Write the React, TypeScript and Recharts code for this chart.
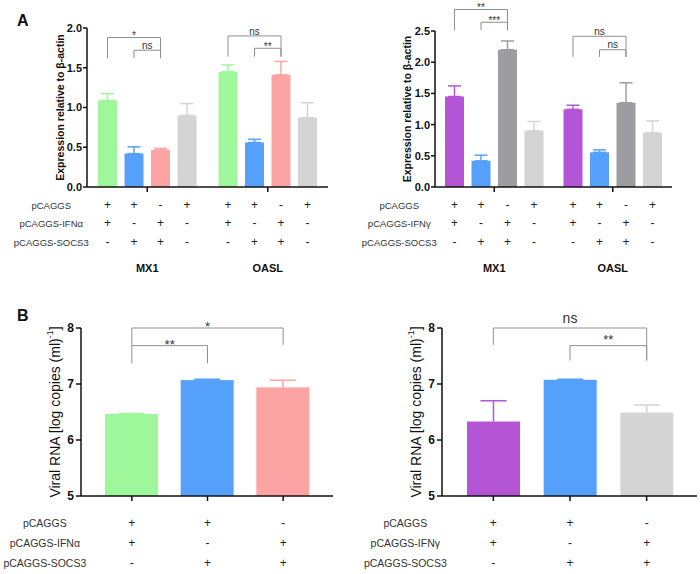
import React from 'react';
import { BarChart, Bar, XAxis, YAxis, ErrorBar, Cell, ReferenceLine } from 'recharts';

const FONT = '"Liberation Sans", Arial, Helvetica, sans-serif';
const INK = '#111';
const BRACKET = '#8f8f8f';

// ---------- panel A: expression relative to β-actin ----------
const genes = ['MX1', 'OASL'];
const seriesKeys = ['ifn', 'socs', 'both', 'ctrl'];

// left chart (IFNα), one value per gene
const a1Ifn = [1.09, 1.45];
const a1IfnErr = [0.085, 0.085];
const a1Socs = [0.42, 0.56];
const a1SocsErr = [0.085, 0.04];
const a1Both = [0.465, 1.41];
const a1BothErr = [0.02, 0.17];
const a1Ctrl = [0.9, 0.87];
const a1CtrlErr = [0.15, 0.19];

// right chart (IFNγ)
const a2Ifn = [1.45, 1.245];
const a2IfnErr = [0.17, 0.065];
const a2Socs = [0.42, 0.555];
const a2SocsErr = [0.09, 0.04];
const a2Both = [2.2, 1.35];
const a2BothErr = [0.14, 0.32];
const a2Ctrl = [0.9, 0.87];
const a2CtrlErr = [0.15, 0.19];

const a1Ticks = [0, 0.5, 1, 1.5, 2];
const a2Ticks = [0, 0.5, 1, 1.5, 2, 2.5];

// +/- rows under the four bars of each gene
const aSigns = [
  ['+', '+', '-', '+'],
  ['+', '-', '+', '-'],
  ['-', '+', '+', '-'],
];
const a1RowLabels = ['pCAGGS', 'pCAGGS-IFNα', 'pCAGGS-SOCS3'];
const a2RowLabels = ['pCAGGS', 'pCAGGS-IFNγ', 'pCAGGS-SOCS3'];

// brackets: bar indices inside a gene group, heights in axis units
const a1Brackets = [
  { group: 0, from: 0, to: 2, top: 1.88, legL: 1.62, legR: 1.62, text: '*' },
  { group: 0, from: 1, to: 2, top: 1.72, legL: 1.62, legR: 1.62, text: 'ns' },
  { group: 1, from: 0, to: 2, top: 1.9, legL: 1.64, legR: 1.64, text: 'ns' },
  { group: 1, from: 1, to: 2, top: 1.745, legL: 1.64, legR: 1.64, text: '**' },
];
const a2Brackets = [
  { group: 0, from: 0, to: 2, top: 2.845, legL: 2.515, legR: 2.515, text: '**' },
  { group: 0, from: 1, to: 2, top: 2.64, legL: 2.515, legR: 2.515, text: '***' },
  { group: 1, from: 0, to: 2, top: 2.415, legL: 2.085, legR: 2.085, text: 'ns' },
  { group: 1, from: 1, to: 2, top: 2.2, legL: 2.085, legR: 2.085, text: 'ns' },
];

// ---------- panel B: viral RNA ----------
const bCats = ['IFN', 'SOCS3', 'IFN+SOCS3'];
const b1Values = [6.465, 7.07, 6.94];
const b1Err = [0.008, 0.015, 0.125];
const b2Values = [6.33, 7.075, 6.49];
const b2Err = [0.37, 0.012, 0.135];
const bTicks = [5, 6, 7, 8];
const bSigns = [
  ['+', '+', '-'],
  ['+', '-', '+'],
  ['-', '+', '+'],
];
const b1RowLabels = ['pCAGGS', 'pCAGGS-IFNα', 'pCAGGS-SOCS3'];
const b2RowLabels = ['pCAGGS', 'pCAGGS-IFNγ', 'pCAGGS-SOCS3'];
const b1Brackets = [
  { from: 0, to: 1, top: 7.685, legL: 7.37, legR: 7.37, text: '**' },
  { from: 0, to: 2, top: 8.0, legL: 7.685, legR: 7.7, text: '*' },
];
const b2Brackets = [
  { from: 0, to: 2, top: 8.0, legL: 7.7, legR: 7.42, text: 'ns' },
  { from: 1, to: 2, top: 7.685, legL: 7.42, legR: 7.42, text: '**' },
];

const A1_COLORS = ['#9ff79b', '#55a0fa', '#fca3a3', '#d4d4d4'];
const A2_COLORS = ['#b455d6', '#55a0fa', '#9d9da1', '#d4d4d4'];
const B1_COLORS = ['#9ff79b', '#55a0fa', '#fca3a3'];
const B2_COLORS = ['#b455d6', '#55a0fa', '#d4d4d4'];

const BAR_A = 19;
const GAP_A = 7.5;
const PITCH_A = BAR_A + GAP_A;
const B_MIN = 5;

type Bracket = { group?: number; from: number; to: number; top: number; legL: number; legR: number; text: string };

const buildA = (vals: number[][], errs: number[][]) =>
  genes.map((gene, gi) => {
    const row: any = { gene };
    seriesKeys.forEach((k, si) => {
      row[k] = vals[si][gi];
      row[k + 'Err'] = [0, errs[si][gi]];
    });
    return row;
  });

const buildB = (vals: number[], errs: number[]) => bCats.map((cat, i) => ({ cat, value: vals[i], err: errs[i] }));

const a1Data = buildA([a1Ifn, a1Socs, a1Both, a1Ctrl], [a1IfnErr, a1SocsErr, a1BothErr, a1CtrlErr]);
const a2Data = buildA([a2Ifn, a2Socs, a2Both, a2Ctrl], [a2IfnErr, a2SocsErr, a2BothErr, a2CtrlErr]);
const b1Data = buildB(b1Values, b1Err);
const b2Data = buildB(b2Values, b2Err);

// baseline so that the glyphs sit `lift` px above the bracket line
const textBaseline = (line: number, text: string, size: number, lift: number) =>
  line - lift + (text.includes('*') ? 0.575 : 0.26) * size;

// bar shape that also draws the significance brackets of its gene group
const bracketBar = (key: string, seriesIdx: number, brackets: Bracket[], size: number, lift: number) => (p: any) => {
  const { x, y, width, height, fill, payload } = p;
  const base = y + height;
  const ppu = height / payload[key];
  const py = (u: number) => base - u * ppu;
  const cx = (s: number) => x + width / 2 + (s - seriesIdx) * PITCH_A;
  const g = genes.indexOf(payload.gene);
  return (
    <g>
      <rect x={x} y={y} width={width} height={height} fill={fill} />
      {brackets
        .filter((b) => b.group === g)
        .map((b, i) => (
          <g key={i}>
            <path
              d={`M${cx(b.from)},${py(b.legL)}V${py(b.top)}H${cx(b.to)}V${py(b.legR)}`}
              fill="none"
              stroke={BRACKET}
              strokeWidth={1}
            />
            <text
              x={(cx(b.from) + cx(b.to)) / 2}
              y={textBaseline(py(b.top), b.text, size, lift)}
              textAnchor="middle"
              fontSize={size}
              fill="#333"
              fontFamily={FONT}
            >
              {b.text}
            </text>
          </g>
        ))}
    </g>
  );
};

// bar with an upward-only whisker in its own colour
const errBar = (colors: string[]) => (p: any) => {
  const { x, y, width, height, payload } = p;
  const fill = colors[bCats.indexOf(payload.cat)] || p.fill;
  const ppu = height / (payload.value - B_MIN);
  const top = y - payload.err * ppu;
  const cx = x + width / 2;
  return (
    <g>
      <rect x={x} y={y} width={width} height={height} fill={fill} />
      <path d={`M${cx},${y}V${top}M${cx - 13},${top}H${cx + 13}`} stroke={fill} strokeWidth={1.5} fill="none" />
    </g>
  );
};

type TickCfg = {
  cats: string[];
  offsets: number[];
  sign: (r: number, s: number, g: number) => string;
  rowLabels: string[];
  rowDy: number[];
  labelDx: number;
  labelSize: number;
  geneDy?: number;
};

// x tick: the +/- table (and gene name) under each category
const tableTick = (cfg: TickCfg) => (p: any) => {
  const { x, y, payload } = p;
  const g = cfg.cats.indexOf(payload.value);
  return (
    <g fontFamily={FONT}>
      {cfg.rowDy.map((dy, r) =>
        cfg.offsets.map((off, s) => (
          <text key={`${r}-${s}`} x={x + off} y={y + dy} textAnchor="middle" dominantBaseline="central" fontSize={12} fill="#222">
            {cfg.sign(r, s, g)}
          </text>
        ))
      )}
      {g === 0 &&
        cfg.rowLabels.map((lab, r) => (
          <text key={lab} x={x + cfg.labelDx} y={y + cfg.rowDy[r]} textAnchor="middle" dominantBaseline="central" fontSize={cfg.labelSize} fill="#333">
            {lab}
          </text>
        ))}
      {cfg.geneDy !== undefined && (
        <text x={x} y={y + cfg.geneDy} textAnchor="middle" dominantBaseline="central" fontSize={11} fontWeight={700} fill={INK}>
          {payload.value}
        </text>
      )}
    </g>
  );
};

const yTitle = (content: React.ReactNode, dx: number, size: number, weight: number) => (p: any) => {
  const vb = p.viewBox || {};
  const cx = vb.x + dx;
  const cy = vb.y + vb.height / 2;
  return (
    <text
      transform={`translate(${cx},${cy}) rotate(-90)`}
      textAnchor="middle"
      dominantBaseline="central"
      fontSize={size}
      fontWeight={weight}
      fill={INK}
      fontFamily={FONT}
    >
      {content}
    </text>
  );
};

const bracketText = (text: string, size: number, lift: number) => (p: any) => {
  const vb = p.viewBox || {};
  return (
    <text
      x={vb.x + (vb.width || 0) / 2}
      y={textBaseline(vb.y, text, size, lift)}
      textAnchor="middle"
      fontSize={size}
      fill="#333"
      fontFamily={FONT}
    >
      {text}
    </text>
  );
};

const axisStyle = { stroke: INK, strokeWidth: 1.5 };

type PanelAProps = {
  left: number;
  data: any[];
  colors: string[];
  yMax: number;
  ticks: number[];
  brackets: Bracket[];
  rowLabels: string[];
  margin: { top: number; right: number; bottom: number; left: number };
  yWidth: number;
  titleDx: number;
  labelDx: number;
};

function PanelA({ left, data, colors, yMax, ticks, brackets, rowLabels, margin, yWidth, titleDx, labelDx }: PanelAProps) {
  const tick = tableTick({
    cats: genes,
    offsets: [-1.5, -0.5, 0.5, 1.5].map((k) => k * PITCH_A),
    sign: (r, s) => aSigns[r][s],
    rowLabels,
    rowDy: [11, 29, 48],
    labelDx,
    labelSize: 9.5,
    geneDy: 74,
  });
  return (
    <div style={{ position: 'absolute', left, top: 0 }}>
      <BarChart width={350} height={285} data={data} margin={margin} barSize={BAR_A} barGap={GAP_A}>
        <XAxis dataKey="gene" interval={0} height={90} tickSize={5} tickMargin={2} axisLine={axisStyle} tickLine={axisStyle} tick={tick} />
        <YAxis
          type="number"
          domain={[0, yMax]}
          ticks={ticks}
          interval={0}
          width={yWidth}
          tickSize={4}
          tickMargin={1}
          axisLine={axisStyle}
          tickLine={axisStyle}
          tickFormatter={(v: number) => v.toFixed(1)}
          tick={{ fill: INK, fontSize: 11, fontWeight: 700, fontFamily: FONT }}
          label={yTitle('Expression relative to β-actin', titleDx, 10.5, 700)}
        />
        {seriesKeys.map((k, i) => (
          <Bar
            key={k}
            dataKey={k}
            fill={colors[i]}
            isAnimationActive={false}
            {...(i === 2 ? { shape: bracketBar(k, 2, brackets, 10, 4) } : {})}
          >
            <ErrorBar dataKey={k + 'Err'} width={6.5} stroke={colors[i]} strokeWidth={1.5} direction="y" />
          </Bar>
        ))}
      </BarChart>
    </div>
  );
}

type PanelBProps = {
  left: number;
  data: any[];
  colors: string[];
  brackets: Bracket[];
  rowLabels: string[];
  margin: { top: number; right: number; bottom: number; left: number };
  labelDx: number;
  textSizes: [number, number];
  lift: number;
};

function PanelB({ left, data, colors, brackets, rowLabels, margin, labelDx, textSizes, lift }: PanelBProps) {
  const tick = tableTick({
    cats: bCats,
    offsets: [0],
    sign: (r, _s, g) => bSigns[r][g],
    rowLabels,
    rowDy: [20, 40, 60],
    labelDx,
    labelSize: 10.5,
  });
  const title = (
    <>
      Viral RNA [log copies (ml)
      <tspan dy={-5} fontSize={9}>
        -1
      </tspan>
      <tspan dy={5}>]</tspan>
    </>
  );
  const lines = brackets.flatMap((b, i) => {
    const xl = bCats[b.from];
    const xr = bCats[b.to];
    const size = b.text.includes('*') ? textSizes[0] : textSizes[1];
    const common = { stroke: BRACKET, strokeWidth: 1, ifOverflow: 'visible' as const };
    return [
      <ReferenceLine key={`l${i}`} segment={[{ x: xl, y: b.legL }, { x: xl, y: b.top }]} {...common} />,
      <ReferenceLine key={`t${i}`} segment={[{ x: xl, y: b.top }, { x: xr, y: b.top }]} {...common} label={bracketText(b.text, size, lift)} />,
      <ReferenceLine key={`r${i}`} segment={[{ x: xr, y: b.top }, { x: xr, y: b.legR }]} {...common} />,
    ];
  });
  return (
    <div style={{ position: 'absolute', left, top: 300 }}>
      <BarChart width={350} height={274} data={data} margin={margin} barSize={53}>
        <XAxis
          dataKey="cat"
          interval={0}
          height={70}
          padding={{ left: 13, right: 12 }}
          tickSize={5}
          tickMargin={2}
          axisLine={axisStyle}
          tickLine={axisStyle}
          tick={tick}
        />
        <YAxis
          type="number"
          domain={[B_MIN, 8]}
          ticks={bTicks}
          interval={0}
          width={50}
          tickSize={5}
          tickMargin={2}
          axisLine={axisStyle}
          tickLine={axisStyle}
          tick={{ fill: INK, fontSize: 12, fontWeight: 700, fontFamily: FONT }}
          label={yTitle(title, 24, 14, 400)}
        />
        <Bar dataKey="value" isAnimationActive={false} shape={errBar(colors)}>
          {data.map((d, i) => (
            <Cell key={d.cat} fill={colors[i]} />
          ))}
        </Bar>
        {lines}
      </BarChart>
    </div>
  );
}

export default function App() {
  return (
    <div style={{ position: 'absolute', left: 0, top: 0, width: 700, height: 574, background: '#fff', overflow: 'hidden' }}>
      <PanelA
        left={0}
        data={a1Data}
        colors={A1_COLORS}
        yMax={2}
        ticks={a1Ticks}
        brackets={a1Brackets}
        rowLabels={a1RowLabels}
        margin={{ top: 28, right: 22, bottom: 8, left: 27 }}
        yWidth={60}
        titleDx={33}
        labelDx={-96}
      />
      <PanelA
        left={350}
        data={a2Data}
        colors={A2_COLORS}
        yMax={2.5}
        ticks={a2Ticks}
        brackets={a2Brackets}
        rowLabels={a2RowLabels}
        margin={{ top: 31, right: 28, bottom: 8, left: 27 }}
        yWidth={58}
        titleDx={30}
        labelDx={-95}
      />
      <PanelB
        left={0}
        data={b1Data}
        colors={B1_COLORS}
        brackets={b1Brackets}
        rowLabels={b1RowLabels}
        margin={{ top: 28, right: 17, bottom: 8, left: 31 }}
        labelDx={-87}
        textSizes={[13, 14]}
        lift={4}
      />
      <PanelB
        left={350}
        data={b2Data}
        colors={B2_COLORS}
        brackets={b2Brackets}
        rowLabels={b2RowLabels}
        margin={{ top: 28, right: 3, bottom: 8, left: 42 }}
        labelDx={-88}
        textSizes={[13, 14]}
        lift={9}
      />
      <svg width={700} height={574} style={{ position: 'absolute', left: 0, top: 0, pointerEvents: 'none' }}>
        <text x={17} y={26} fontSize={16} fontWeight={700} fill={INK} fontFamily={FONT}>
          A
        </text>
        <text x={17} y={321} fontSize={16} fontWeight={700} fill={INK} fontFamily={FONT}>
          B
        </text>
      </svg>
    </div>
  );
}
